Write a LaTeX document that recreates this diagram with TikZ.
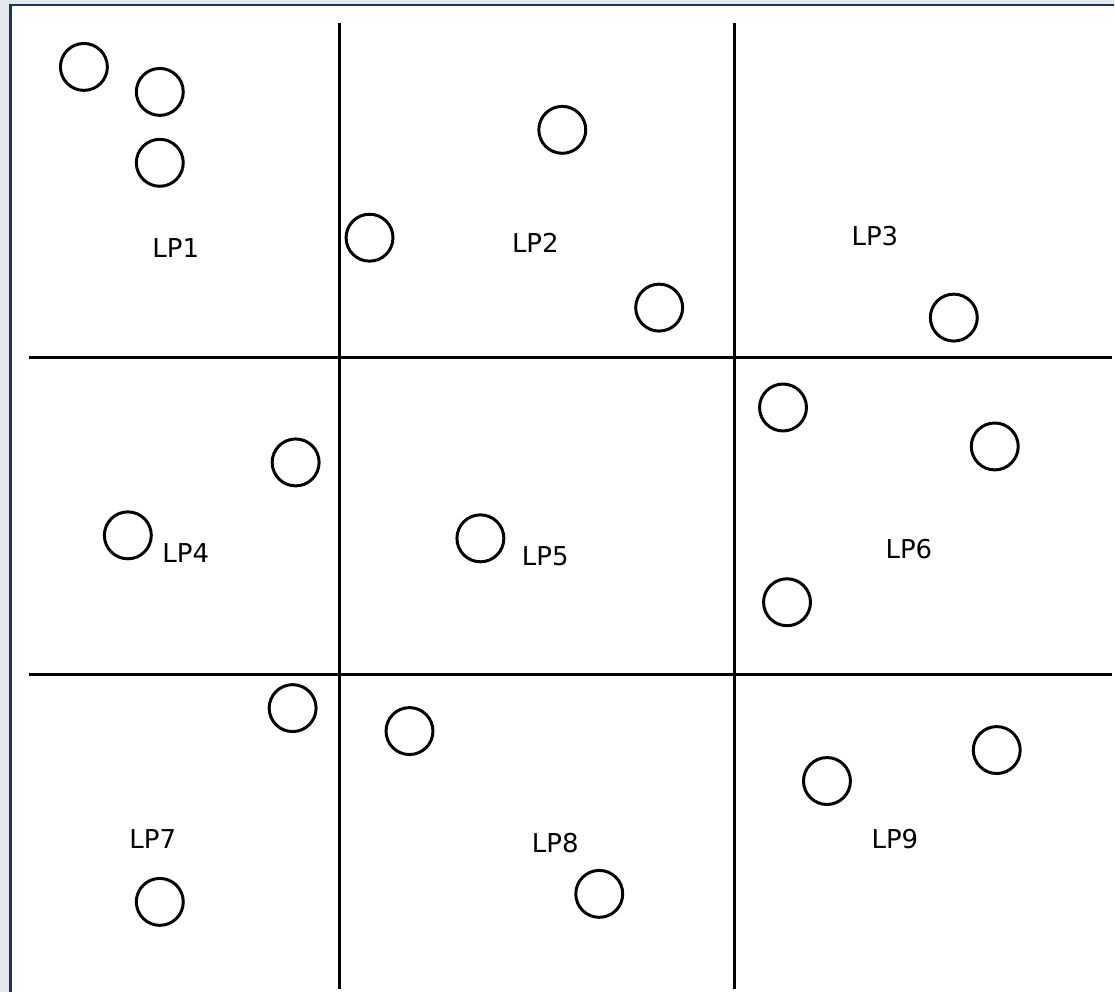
\documentclass[tikz,border=0pt]{standalone}
\usepackage{fontspec}
\setmainfont{DejaVu Sans}
\usetikzlibrary{positioning}
\definecolor{pagegray}{HTML}{E4E8ED}
\definecolor{framenavy}{HTML}{17375E}

\begin{document}
\begin{tikzpicture}[
  x=0.02cm, y=-0.02cm,
  font=\fontsize{14.8}{16}\selectfont,
  grid/.style={line width=1.7pt, black},
  dot/.style={draw, circle, line width=1.7pt, minimum size=0.94cm, inner sep=0pt},
  lp/.style={inner sep=0pt}
]
% page and frame
\fill[pagegray] (0,0) rectangle (1115,993);
\fill[white] (10.5,5) rectangle (1115,993);
\draw[framenavy, line width=1.6pt] (10.5,993) -- (10.5,5) -- (1115,5);
\useasboundingbox (0,0) rectangle (1115,993);

% partition lines
\draw[grid] (340,23) -- (340,990);
\draw[grid] (735,23) -- (735,990);
\draw[grid] (29,358) -- (1113,358);
\draw[grid] (29,675) -- (1113,675);

% points
\foreach \i/\px/\py in {1/84/67, 2/160/92, 3/160/163, 4/370/238, 5/563/130,
  6/660/308, 7/955/318, 8/784/408, 9/996/447, 10/296/463, 11/128/536,
  12/481/539, 13/788/603, 14/293/709, 15/410/732, 16/828/782, 17/998/751,
  18/160/903, 19/600/895}
  \node[dot] (p\i) at (\px,\py) {};

% partition labels
\node[lp] (lp1) at (176,248) {LP1};
\node[lp] (lp2) at (536,243) {LP2};
\node[lp] (lp3) at (876,236) {LP3};
\node[lp] (lp4) at (186,554) {LP4};
\node[lp] (lp5) at (546,557) {LP5};
\node[lp] (lp6) at (910,550) {LP6};
\node[lp] (lp7) at (153,840) {LP7};
\node[lp] (lp8) at (556,844) {LP8};
\node[lp] (lp9) at (896,840) {LP9};
\end{tikzpicture}
\end{document}
